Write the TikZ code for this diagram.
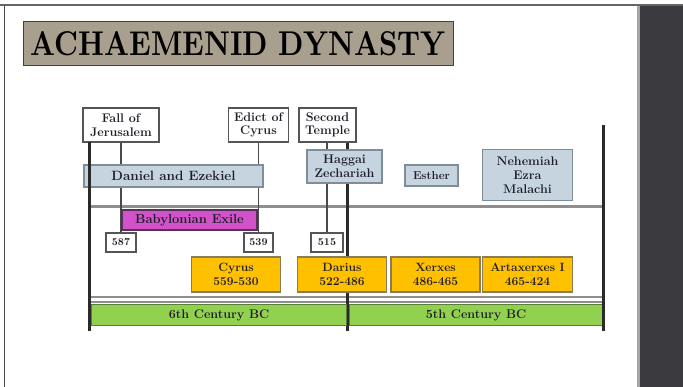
\documentclass[tikz,border=0pt]{standalone}
\usepackage{graphicx}
\pgfdeclarelayer{paper}
\pgfdeclarelayer{lines}
\pgfsetlayers{paper,lines,main}
\definecolor{taupe}{HTML}{A89F8F}
\definecolor{panel}{HTML}{3B3A3F}
\definecolor{ink}{HTML}{1E1E28}
\definecolor{bluegray}{HTML}{C6D4E0}
\definecolor{bborder}{HTML}{7F8C99}
\definecolor{wborder}{HTML}{555555}
\definecolor{exile}{HTML}{D152C9}
\definecolor{exborder}{HTML}{5A2E5A}
\definecolor{gold}{HTML}{FFC000}
\definecolor{goldborder}{HTML}{8A7D55}
\definecolor{leaf}{HTML}{92D050}
\definecolor{leafborder}{HTML}{5A7D3A}
\definecolor{rule}{HTML}{8E8E8E}
\definecolor{vline}{HTML}{2A2A2A}
\tikzset{
  lbl/.style={font=\fontsize{12.5}{13.5}\selectfont\bfseries, text=ink, align=center, inner sep=0pt, outer sep=0pt},
  wbox/.style={lbl, draw=wborder, line width=1.2pt, fill=white},
  bbox/.style={lbl, draw=bborder, line width=1.5pt, fill=bluegray},
  exbox/.style={lbl, draw=exborder, line width=1.2pt, fill=exile},
  kingbox/.style={lbl, font=\fontsize{12}{13.5}\selectfont\bfseries, draw=goldborder, line width=1.2pt, fill=gold, minimum width=89pt, minimum height=35pt},
  centbox/.style={lbl, draw=leafborder, line width=1pt, fill=leaf, minimum height=21pt},
  yearbox/.style={wbox, minimum height=19pt, font=\fontsize{10.5}{11}\selectfont\bfseries},
  thickline/.style={draw=vline, line width=3pt},
  thinline/.style={draw=vline!85, line width=1.8pt},
  hrule/.style={draw=rule, line width=3pt},
  hdouble/.style={draw=rule, line width=2.2pt, double=white, double distance=2.2pt}
}
\begin{document}
\begin{tikzpicture}[x=1pt,y=-1pt]
\useasboundingbox (0,0) rectangle (683,387);
\begin{pgfonlayer}{paper}
\fill[white] (0,0) rectangle (683,387);
\fill[panel] (637,5) rectangle (683,387);
\fill[gray!70] (637,5) rectangle (639.5,387);
\draw[gray!80!black, line width=1.5pt] (0,5) -- (683,5);
\draw[gray!60!black, line width=1pt] (4.5,5) -- (4.5,387);
\end{pgfonlayer}

% title
\node[draw=black!75, line width=1pt, fill=taupe, minimum width=430pt, minimum height=44pt, inner sep=0pt] (title) at (238,44)
  {\resizebox{415pt}{24pt}{\bfseries ACHAEMENID DYNASTY}};

% event boxes
\node[wbox, minimum width=76pt, minimum height=34pt] (fall) at (121,125) {Fall of\\Jerusalem};
\node[wbox, minimum width=60pt, minimum height=34pt] (edict) at (258.5,125) {Edict of\\Cyrus};
\node[wbox, minimum width=57pt, minimum height=34pt] (temple) at (327.5,125) {Second\\Temple};

% prophets
\node[bbox, font=\fontsize{13.5}{14}\selectfont\bfseries, minimum width=179pt, minimum height=22pt] (daniel) at (173.5,176) {Daniel and Ezekiel};
\node[bbox, minimum width=75pt, minimum height=33pt] (haggai) at (344.5,166.5) {Haggai\\Zechariah};
\node[bbox, font=\fontsize{11.5}{12}\selectfont\bfseries, minimum width=53pt, minimum height=21pt] (esther) at (431.5,175.5) {Esther};
\node[bbox, font=\fontsize{12.5}{14}\selectfont\bfseries, minimum width=90pt, minimum height=51pt] (nehem) at (527.5,175) {Nehemiah\\Ezra\\Malachi};

% exile and years
\node[exbox, font=\fontsize{13}{14}\selectfont\bfseries, minimum width=135pt, minimum height=20pt] (exile) at (189.5,220) {Babylonian Exile};
\node[yearbox, minimum width=30pt] (y587) at (121,242.5) {587};
\node[yearbox, minimum width=29pt] (y539) at (258.5,242.5) {539};
\node[yearbox, minimum width=32pt] (y515) at (327,242.5) {515};

% kings
\node[kingbox] (cyrus) at (236,274.5) {Cyrus\\559-530};
\node[kingbox] (darius) at (342,274.5) {Darius\\522-486};
\node[kingbox] (xerxes) at (435.5,274.5) {Xerxes\\486-465};
\node[kingbox, minimum width=90pt] (artax) at (527.5,274.5) {Artaxerxes I\\465-424};

% centuries
\node[centbox, minimum width=255pt] (c6) at (219,315) {6th Century BC};
\node[centbox, minimum width=253pt] (c5) at (476,315) {5th Century BC};

% axis coordinates
\coordinate (L1) at (89.5,331);
\coordinate (M1) at (347.5,331);
\coordinate (R0) at (603.5,125);
\coordinate (R1) at (603.5,331);
\coordinate (HA) at (89.5,207);
\coordinate (HB) at (603.5,207);
\coordinate (DA) at (89.5,299.5);
\coordinate (DB) at (603.5,299.5);

\begin{pgfonlayer}{lines}
  \draw[hrule] (HA) -- (HB);
  \draw[hdouble] (DA) -- (DB);
  \draw[thinline] (fall.south) -- (y587.north);
  \draw[thinline] (edict.south) -- (y539.north);
  \draw[thinline] (temple.south -| y515) -- (y515.north);
  \draw[thickline, line width=2.6pt] (temple.south -| M1) -- (M1);
\end{pgfonlayer}
\draw[thickline] (fall.south -| L1) -- (L1);
\draw[thickline] (R0) -- (R1);
\end{tikzpicture}
\end{document}
